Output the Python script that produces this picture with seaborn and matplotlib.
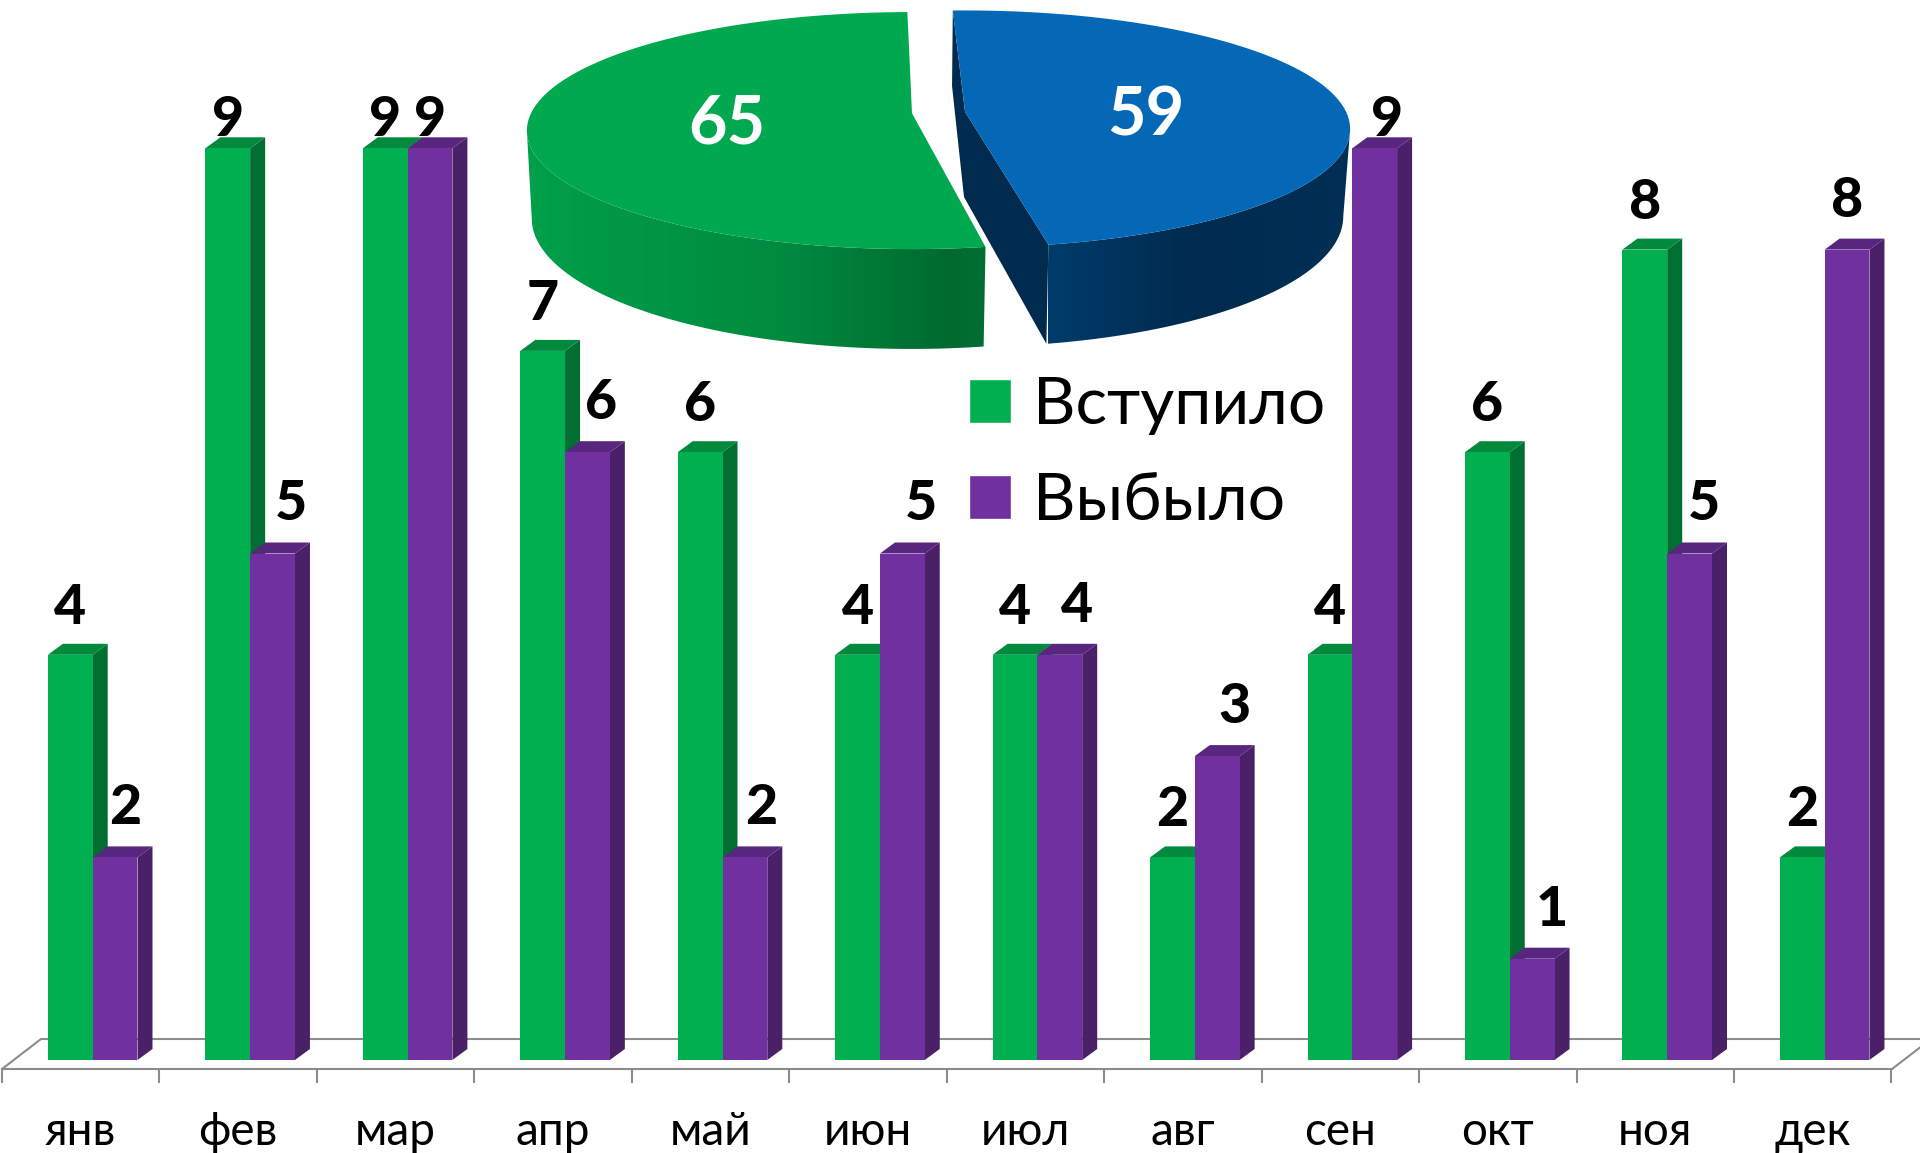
import matplotlib
matplotlib.use('Agg')

import numpy as np
import pandas as pd
import matplotlib.pyplot as plt
from matplotlib.patches import Polygon
import seaborn as sns

# data
months = ['янв', 'фев', 'мар', 'апр', 'май', 'июн', 'июл', 'авг', 'сен', 'окт', 'ноя', 'дек']
joined = [4, 9, 9, 7, 6, 4, 4, 2, 4, 6, 8, 2]
left = [2, 5, 9, 6, 2, 5, 4, 3, 9, 1, 5, 8]
series_names = ['Вступило', 'Выбыло']
pie_totals = [59, 65]

sns.set_theme(style='white')
plt.rcParams['font.family'] = ['Lato', 'Noto Sans', 'DejaVu Sans']

W, H = 1920, 1153
PX_X = 157.45   # px per month
PX_Y = 101.3    # px per unit
BASE_Y = 1060   # px row of value 0
FRONT_Y = 1069  # px row of floor front edge
DEPTH_X = 15 / PX_X
DEPTH_Y = 11 / PX_Y

df = pd.DataFrame({
    'month': months * 2,
    'series': [series_names[0]] * 12 + [series_names[1]] * 12,
    'value': joined + left,
})

fig = plt.figure(figsize=(W / 100, H / 100), dpi=100)
ax = fig.add_axes([2 / W, (H - FRONT_Y) / H, 1890 / W, FRONT_Y / H])
ax.patch.set_alpha(0)

sns.barplot(data=df, x='month', y='value', hue='series',
            palette=['#00B050', '#7030A0'], saturation=1,
            width=0.569, gap=0, ax=ax, legend=True)

x_left = (2 - 92.7) / PX_X
ax.set_xlim(x_left, x_left + 1890 / PX_X)
ax.set_ylim(-(FRONT_Y - BASE_Y) / PX_Y, BASE_Y / PX_Y)

# 3d sides of the bars
shades = [('#016E32', '#018A3E'), ('#4A2068', '#58257F')]
for n, cont in enumerate(ax.containers):
    side_c, top_c = shades[n]
    for bar in cont:
        bar.set_zorder(2 + n)
        bar.set_linewidth(0)
        x0, x1, h = bar.get_x(), bar.get_x() + bar.get_width(), bar.get_height()
        ax.add_patch(Polygon([(x1, 0), (x1 + DEPTH_X, DEPTH_Y), (x1 + DEPTH_X, h + DEPTH_Y), (x1, h)],
                             fc=side_c, lw=0, zorder=1.9 + n))
        ax.add_patch(Polygon([(x0, h), (x0 + DEPTH_X, h + DEPTH_Y), (x1 + DEPTH_X, h + DEPTH_Y), (x1, h)],
                             fc=top_c, lw=0, zorder=1.9 + n))

# value labels, purple ones are pushed right by hand like in the original
shift_px = [10, 18, 0, 14, 16, 19, 17, 17, 12, 20, 14, 0]
for i in range(12):
    g, p = ax.containers[0][i], ax.containers[1][i]
    y = min(joined[i] + 47 / PX_Y, 9.28)
    ax.text(g.get_x() + g.get_width() / 2, y, str(joined[i]), ha='center', va='center',
            fontsize=40, fontweight=900, color='black', zorder=6)
    y = min(left[i] + 49 / PX_Y, 9.28)
    ax.text(p.get_x() + p.get_width() / 2 + shift_px[i] / PX_X, y, str(left[i]), ha='center', va='center',
            fontsize=40, fontweight=900, color='black', zorder=6)

# floor
floor_c = '#8C8C8C'
back_y = (BASE_Y - 1039) / PX_Y
bottom, x_right = ax.get_ylim()[0], ax.get_xlim()[1]
floor_dx = 39 / PX_X
ax.plot([x_left, x_left + floor_dx, x_right + floor_dx], [bottom, back_y, back_y],
        color=floor_c, lw=1.5, clip_on=False, zorder=1)
ax.plot([x_right, x_right + floor_dx], [bottom, back_y], color=floor_c, lw=1.5, clip_on=False, zorder=1)

sns.despine(ax=ax, left=True, top=True, right=True)
ax.spines['bottom'].set_color(floor_c)
ax.spines['bottom'].set_linewidth(1.5)
ax.set_yticks([])
ax.set_xlabel('')
ax.set_ylabel('')
ax.set_xticks(np.arange(13) + x_left)
ax.set_xticklabels([])
ax.set_xticks(np.arange(12) + x_left + 0.5, labels=months, minor=True)
ax.tick_params(axis='x', which='major', length=10, width=1.5, color=floor_c, bottom=True)
ax.tick_params(axis='x', which='minor', length=0, pad=30, labelsize=33, labelcolor='black')

# legend
handles, labels = ax.get_legend_handles_labels()
ax.legend(handles, labels, loc='upper left', bbox_to_anchor=(969 / W, 1 - 376 / H),
          bbox_transform=fig.transFigure, frameon=False, fontsize=47.5,
          handlelength=0.64, handleheight=0.64, handletextpad=0.33,
          labelspacing=0.56, borderpad=0, borderaxespad=0, labelcolor='black')

# pie, perspective drawn by hand on a pixel axes
ax_pie = fig.add_axes([0, 0, 1, 1])
ax_pie.axis('off')


def rim(theta, apex, a, b, k):
    t = np.radians(theta)
    f = 1 / (1 + k * np.cos(t))
    return np.column_stack([apex[0] + a * np.sin(t) * f, apex[1] - b * np.cos(t) * f])


def slice3d(start, end, apex, low_apex, top_c, stops_x, stops_c, inner_c=None):
    th = np.linspace(start, end, 300)
    top_rim = rim(th, apex, 381, 116, 0.1457)
    low_rim = rim(th, low_apex, 375, 127.6, 0.149)
    if inner_c:
        ax_pie.add_patch(Polygon(np.vstack([top_rim[0], apex, top_rim[-1], low_rim[-1], low_apex, low_rim[0]]),
                                 fc=inner_c, lw=0, zorder=1))
    # outer wall: horizontal gradient clipped to the wall outline, from silhouette to silhouette
    front = (th > 98.4) & (th < 261.6)
    wall = Polygon(np.vstack([top_rim[front], low_rim[front][::-1]]), transform=ax_pie.transData, fc='none', lw=0)
    ax_pie.add_patch(wall)
    xs = np.arange(min(stops_x), max(stops_x) + 1)
    rgb = np.array([to_rgb(c) for c in stops_c])
    grad = np.stack([np.interp(xs, stops_x, rgb[:, ch]) for ch in range(3)], axis=-1)[None, :, :]
    img = ax_pie.imshow(grad, extent=[xs[0], xs[-1], 400, 0], aspect='auto', zorder=2, interpolation='bilinear')
    img.set_clip_path(wall)
    ax_pie.add_patch(Polygon(np.vstack([apex, top_rim]), fc=top_c, lw=0, zorder=3))


to_rgb = matplotlib.colors.to_rgb
angles = np.cumsum(pie_totals) / sum(pie_totals) * 360
slice3d(-2.1, angles[0] - 2.1, (965, 111.7), (964, 197), '#0468B6',
        [1048, 1189, 1352], ['#003C6C', '#002B4E', '#002F55'], inner_c='#002B4E')
slice3d(angles[0] - 0.8, angles[1] - 0.8, (912, 113.3), (911, 199), '#00A84F',
        [524, 787, 948, 986], ['#00A04A', '#008A3F', '#006A2F', '#016F33'])
ax_pie.set_xlim(0, W)
ax_pie.set_ylim(H, 0)

ax_pie.text(727, 125, str(pie_totals[1]), color='white', fontsize=48, fontweight='bold', ha='center', va='center', zorder=4)
ax_pie.text(1146, 116, str(pie_totals[0]), color='white', fontsize=48, fontweight='bold', ha='center', va='center', zorder=4)

plt.savefig('out.png', dpi=100)
plt.close()
